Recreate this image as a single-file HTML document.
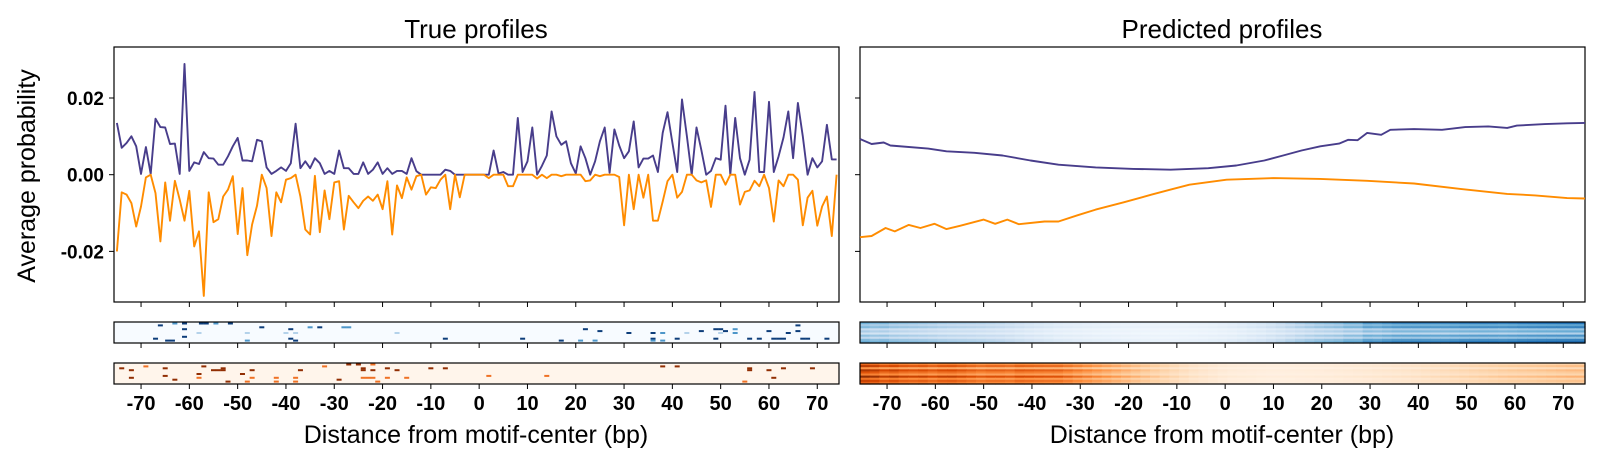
<!DOCTYPE html>
<html><head><meta charset="utf-8">
<style>
html,body{margin:0;padding:0;background:#fff;}
svg{display:block;font-family:"Liberation Sans",sans-serif;}
</style></head>
<body>
<svg id="chart" width="1600" height="465" viewBox="0 0 1600 465" xmlns="http://www.w3.org/2000/svg">
  <text x="476" y="38" font-size="26" text-anchor="middle">True profiles</text>
  <text x="1222" y="38" font-size="26" text-anchor="middle">Predicted profiles</text>
  <text transform="translate(35,176) rotate(-90)" font-size="25" text-anchor="middle">Average probability</text>
  <text x="476" y="443" font-size="25" text-anchor="middle">Distance from motif-center (bp)</text>
  <text x="1222" y="443" font-size="25" text-anchor="middle">Distance from motif-center (bp)</text>
  <g id="plots"></g>
</svg>
<script>
// ---- data ----
const xTicks = [-70,-60,-50,-40,-30,-20,-10,0,10,20,30,40,50,60,70];
const yTicks = [0.02, 0.00, -0.02];
const yTickLabels = ["0.02","0.00","-0.02"];
const trueStartBp = -75;
// true profiles (units of 0.001), 150 positions (-75 .. 74)
const truePos = [13.5,7,8.3,10,7.4,0.2,7.2,0.2,14.6,12.4,
12.3,8,8.1,0.2,28.9,1,3.2,2.8,5.9,4.3,
4.2,2.6,2.6,4.8,7.4,9.6,3.7,3.7,3.5,9.1,
8.7,1.9,0.2,1,1.9,1,3,13.3,1.7,3.5,
1.7,4.3,3,0.2,1,0.2,6.3,1.7,1.7,0.2,
0.2,3.2,0.2,1.3,3.2,0.2,1.7,0.2,1,1,
0.2,4.3,0.9,0,0,0,0,0,1.3,1,
0,0,0,0,
0,0,0,0,6.3,0.3,0.7,0,0,14.8,
0.7,3.5,12.3,0,2.3,5,16.5,10,7.8,8.7,
3,0.3,7.4,4.3,0,3.5,8.7,12.3,0.5,11.8,
7.6,4.3,6.1,13.9,1.9,4.2,4.2,5,0.7,10.9,
16.3,8.3,0.7,19.6,10,0,12.3,6.5,0,1,
4.3,3.9,18,0,14.8,4.3,0,3.9,21.6,0.7,
0.7,19,0.7,4.8,9.7,16.5,4.3,18.7,10,0,
4.3,1.9,3.5,13,4,4];
const trueNeg = [-20,-4.6,-5.2,-7.4,-13.5,-8.3,-0.7,0,-4.8,-17.4,
-2,-12,-1.6,-6.5,-12,-4.2,-18.7,-14.8,-31.6,-4.6,
-12.4,-11.6,-5.7,-3.9,-0.4,-15.5,-3.5,-21,-13,-8.1,
0,-3.5,-16,-4.6,-7.2,-1.3,-0.9,0,-5.7,-14.3,
-15.6,-0.3,-15,-4.1,-11.6,-2,-1.7,-14.3,-5.5,-7.2,
-8.7,-6.8,-5.7,-6.8,-5.2,-9,-1.7,-15.6,-2.8,-6.1,
-0.7,-3.9,-0.4,0,-5.2,-3.3,-3.5,-1.3,0,-9,
0,-5.9,0,0,
0,0,0,-0.9,0,0,0,-3,-3,0,
0,0,0,-1,0,-0.9,0,0,-0.4,0,
0,0,0,-1.7,-1.5,0,-0.4,0,0,0,
-0.6,-13.2,0,-9,0,-6,0,-12,-12,-7,
-1.7,0,-6,-4.5,0,0,-1.5,-2,-1.5,-8.4,
0,0,-2.6,0,0,-7.8,-4.5,-4.1,-1.6,-3,
0,-3.5,-12.2,-1.5,-3,0,0,-1.3,-13.2,-6,
-4.2,-13.3,-8.3,-5.7,-16,0];
// predicted profiles
const predPosBp = [-75.6,-73.2,-70.7,-69.3,-61.5,-57.7,-51.9,-46.1,-40.3,-34.5,-26.8,-19,-11.3,-3.5,2.3,8.1,12,15.8,19.7,23.6,25.5,27.4,29.4,32.3,34.2,39.1,44.9,49.7,54.5,58.4,60.4,66.2,70.8,74.5];
const predPosVal = [9.3,8,8.4,7.6,6.8,6.1,5.7,5,3.7,2.6,1.9,1.5,1.3,1.7,2.4,3.7,5,6.3,7.4,8.1,9.1,9,10.9,10.4,11.7,11.9,11.7,12.4,12.6,12.2,12.8,13.2,13.4,13.5];
const predNegBp = [-75.6,-73.2,-70.3,-68.4,-65.5,-63.1,-60.2,-57.7,-54.8,-50,-47.6,-45.1,-42.7,-37.4,-34.5,-30.6,-26.8,-21,-15.2,-11.3,-7.4,0.3,10,19.7,29.4,39.1,48.7,58.4,64.2,70.8,74.5];
const predNegVal = [-16.3,-16,-13.9,-14.8,-13.1,-13.9,-12.8,-14.2,-13.3,-11.7,-12.8,-11.7,-12.9,-12.2,-12.2,-10.6,-9.1,-7.2,-5.2,-3.9,-2.6,-1.3,-0.9,-1.1,-1.6,-2.3,-3.7,-5,-5.4,-6.1,-6.2];
// heatmap row weights for predicted strips
const predPosRows = [1.1,0.8,1.0,0.55,0.75,0.45,0.9,0.6,1.0,1.15];
const predNegRows = [0.8,1.05,0.6,1.1,0.9,0.7,1.2,0.75,1.0,0.85];
// true strip dashes: [bp, row(0-9), level 0 light,1 mid,2 dark]
const trueBlueDashes = [[-66,1,2],[-63,0,1],[-61,0,2],[-56.5,0,2],[-57.5,0,2],[-54.5,0,1],[-51.5,0,2],[-61,3,2],[-61,7,2],[-67,8,2],[-64.5,9,2],[-63.5,9,2],[-58,5,0],[-48,5,0],[-48,9,1],[-45,2,2],[-39,3,2],[-40,5,0],[-38,5,0],[-39,8,2],[-38,9,2],[-35,2,1],[-33,2,2],[-28,2,1],[-27,2,1],[-17,5,0],[-7,8,2],
[9,8,2],[17,9,2],[21,9,1],[24,9,1],[22,3,2],[25,4,2],[31,5,2],[36,5,2],[36,8,2],[36,9,1],[38,5,1],[38,9,1],[41,8,2],[43,5,0],[46,4,2],[49,3,2],[50,3,2],[49,8,2],[50,5,0],[51,4,2],[53,3,1],[53,5,1],[56,8,2],[58,8,2],[60,4,2],[61,8,2],[62,8,2],[63,8,2],[64,5,2],[66,1,2],[66,4,2],[67,8,2],[68,8,2],[72,8,2]];
const trueOrangeDashes = [[-74,2,2],[-72,3,2],[-72,7,2],[-69,1,1],[-65,2,2],[-65,6,2],[-63,8,2],[-58,5,2],[-58,7,1],[-57,1,2],[-55,3,2],[-54,3,2],[-53,2,2],[-53,3,2],[-52,9,2],[-49,5,2],[-47,3,2],[-48,9,1],[-47,7,1],[-42,7,1],[-42,9,1],[-38,7,1],[-38,9,1],[-37,3,2],[-32,1,1],[-29,8,2],[-27,0,2],[-25,0,2],[-22,0,1],[-24,2,2],[-24,3,2],[-22,3,2],[-24,7,1],[-23,7,1],[-22,7,1],[-21,9,1],[-19,2,2],[-19,7,1],[-17,3,2],[-15,7,1],[-10,2,2],[-7,2,2],[2,6,1],[14,6,1],[38,1,2],[41,1,2],[56,2,2],[56,3,2],[60,3,2],[63,2,2],[69,2,2],[61,7,2],[55,9,1]];

// ---- layout ----
const NS = "http://www.w3.org/2000/svg";
const panels = [{x0:114,x1:839,name:'true'},{x0:860,x1:1585,name:'predicted'}];
const mainY0 = 47, mainY1 = 302;
const strips = [{y0:322,y1:343},{y0:363,y1:384}];
const bpMin = -75.6, bpMax = 74.5;
const vMax = 0.0333, vMin = -0.0332;
const root = document.getElementById('plots');
function mk(tag, attrs, parent){
  const e = document.createElementNS(NS, tag);
  for (const k in attrs) e.setAttribute(k, attrs[k]);
  (parent||root).appendChild(e); return e;
}
function xS(p, bp){ return p.x0 + (bp - bpMin)/(bpMax - bpMin)*(p.x1 - p.x0); }
function yS(v){ return mainY0 + (vMax - v)/(vMax - vMin)*(mainY1 - mainY0); }
function lerp(a,b,t){ return a+(b-a)*t; }
function mix(c0,c1,t){ t=Math.max(0,Math.min(1,t)); return 'rgb('+c0.map((c,i)=>Math.round(lerp(c,c1[i],t))).join(',')+')'; }
function interp(xs, ys, x){
  if (x<=xs[0]) return ys[0];
  for (let i=1;i<xs.length;i++) if (x<=xs[i]) { const t=(x-xs[i-1])/(xs[i]-xs[i-1]); return lerp(ys[i-1],ys[i],t); }
  return ys[ys.length-1];
}
const BLUE='#483d8b', ORANGE='#ff8c00';
const blueRamp=[[247,251,255],[198,219,239],[107,174,214],[33,113,181],[8,48,107]];
const orRamp=[[255,245,235],[253,208,162],[253,141,60],[217,72,1],[127,39,4]];
function ramp(r,t){ t=Math.max(0,Math.min(1,t)); const s=t*(r.length-1); const i=Math.min(r.length-2,Math.floor(s)); return mix(r[i],r[i+1],s-i); }

panels.forEach((p, pi) => {
  const g = mk('g', {});
  
  
  const frame = mk('rect', {x:p.x0, y:mainY0, width:p.x1-p.x0, height:mainY1-mainY0, fill:'none', stroke:'#000', 'stroke-width':1.2}, g);
  
  
  yTicks.forEach((v, i) => {
    const y = yS(v);
    const t = mk('line', {x1:p.x0-5, x2:p.x0, y1:y, y2:y, stroke:'#000', 'stroke-width':1}, g);
    
    
    if (pi === 0) {
      const lb = mk('text', {x:p.x0-10, y:y+7, 'font-size':19, 'font-weight':'bold', 'text-anchor':'end'}, g);
      
      
      lb.textContent = yTickLabels[i];
    }
  });
  [mainY1, strips[0].y1, strips[1].y1].forEach(yb => {
    xTicks.forEach(bp => {
      const x = xS(p, bp);
      const t = mk('line', {x1:x, x2:x, y1:yb, y2:yb+5, stroke:'#000', 'stroke-width':1}, g);
      
      
    });
  });
  xTicks.forEach(bp => {
    const lb = mk('text', {x:xS(p, bp), y:410, 'font-size':20, 'font-weight':'bold', 'text-anchor':'middle'}, g);
    
    
    lb.textContent = String(bp);
  });
  let posPts, negPts;
  if (pi === 0) {
    posPts = truePos.map((v,k)=>xS(p,trueStartBp+k).toFixed(1)+','+yS(v/1000).toFixed(1));
    negPts = trueNeg.map((v,k)=>xS(p,trueStartBp+k).toFixed(1)+','+yS(v/1000).toFixed(1));
  } else {
    posPts = predPosBp.map((b,k)=>xS(p,b).toFixed(1)+','+yS(predPosVal[k]/1000).toFixed(1));
    negPts = predNegBp.map((b,k)=>xS(p,b).toFixed(1)+','+yS(predNegVal[k]/1000).toFixed(1));
  }
  const lp = mk('polyline', {points:posPts.join(' '), fill:'none', stroke:BLUE, 'stroke-width':1.9, 'stroke-linejoin':'round'}, g);
  
  
  const ln = mk('polyline', {points:negPts.join(' '), fill:'none', stroke:ORANGE, 'stroke-width':1.9, 'stroke-linejoin':'round'}, g);
  
  

  strips.forEach((s, si) => {
    const hg = mk('g', {}, g);
    
    
    const r = si===0 ? blueRamp : orRamp;
    const w = p.x1 - p.x0, h = s.y1 - s.y0;
    mk('rect', {x:p.x0, y:s.y0, width:w, height:h, fill:ramp(r,0)}, hg);
    if (pi === 0) {
      const dashes = si===0 ? trueBlueDashes : trueOrangeDashes;
      const levels = [0.3, 0.6, 0.95];
      dashes.forEach(d => {
        const c = mk('rect', {x:xS(p,d[0])-2.5, y:s.y0 + 0.5 + d[1]*(h-2)/10, width:5, height:2, fill:ramp(r, levels[d[2]])}, hg);
        
        
      });
    } else {
      const rows = si===0 ? predPosRows : predNegRows;
      const xs = si===0 ? predPosBp : predNegBp;
      const ys = si===0 ? predPosVal : predNegVal;
      const maxAbs = Math.max(...ys.map(Math.abs));
      const gain = si===0 ? 0.68 : 0.8;
      const nCols = 75, cw = w/nCols, rh = h/rows.length;
      rows.forEach((rw, ri) => {
        for (let c=0;c<nCols;c++){
          const bp = bpMin + (c+0.5)*(bpMax-bpMin)/nCols;
          const t = Math.abs(interp(xs, ys, bp))/maxAbs * rw * gain;
          const cell = mk('rect', {x:p.x0 + c*cw, y:s.y0 + ri*rh, width:cw+0.6, height:rh+0.6, fill:ramp(r, t)}, hg);
          
          
        }
      });
    }
    mk('rect', {x:p.x0, y:s.y0, width:w, height:h, fill:'none', stroke:'#000', 'stroke-width':1.2}, hg);
  });
});
</script>
</body></html>
